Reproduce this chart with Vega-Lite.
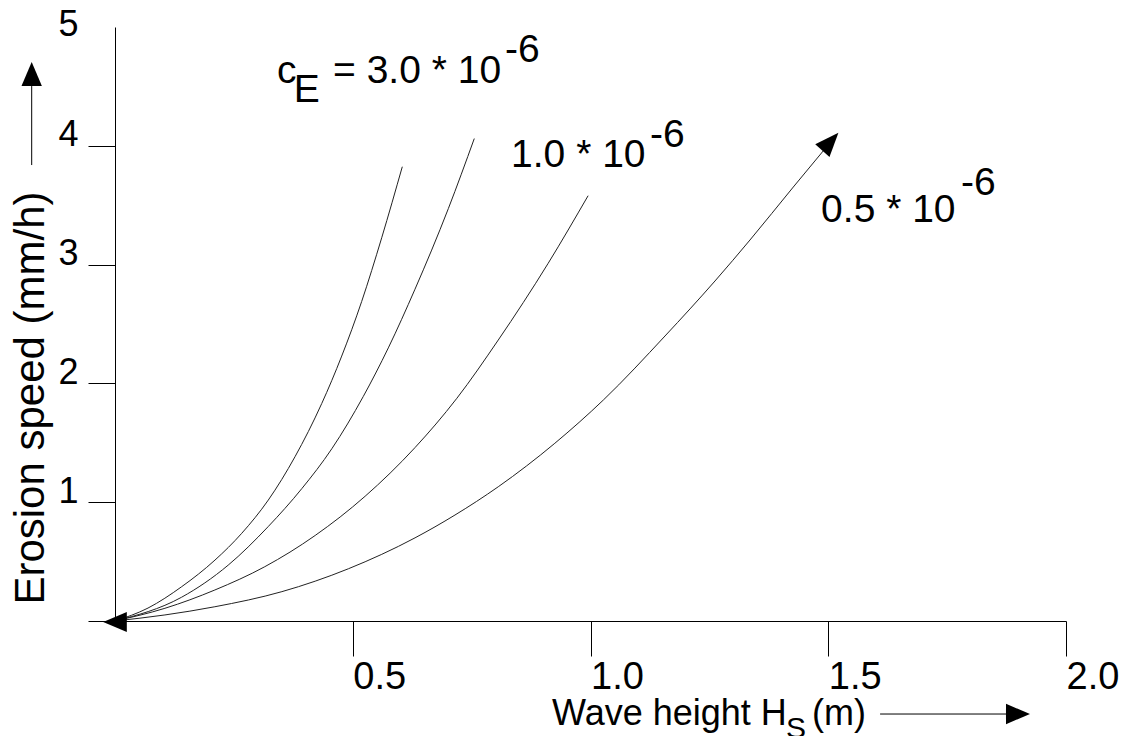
{
  "$schema": "https://vega.github.io/schema/vega-lite/v6.json",
  "width": 951,
  "height": 594,
  "autosize": "none",
  "padding": {"left": 115, "top": 27, "right": 74, "bottom": 115},
  "background": "white",
  "config": {"view": {"stroke": null}, "font": "Liberation Sans", "axis": {"grid": false}},
  "datasets": {
    "curves": [
      {"c": "3.0", "H": 0, "E": 0},
      {"c": "3.0", "H": 0.0694, "E": 0.109},
      {"c": "3.0", "H": 0.1403, "E": 0.289},
      {"c": "3.0", "H": 0.2103, "E": 0.513},
      {"c": "3.0", "H": 0.2665, "E": 0.738},
      {"c": "3.0", "H": 0.3224, "E": 1.018},
      {"c": "3.0", "H": 0.3786, "E": 1.383},
      {"c": "3.0", "H": 0.4347, "E": 1.830},
      {"c": "3.0", "H": 0.4768, "E": 2.230},
      {"c": "3.0", "H": 0.5188, "E": 2.690},
      {"c": "3.0", "H": 0.5609, "E": 3.226},
      {"c": "3.0", "H": 0.6042, "E": 3.824},
      {"c": "2.0", "H": 0, "E": 0},
      {"c": "2.0", "H": 0.140, "E": 0.200},
      {"c": "2.0", "H": 0.238, "E": 0.470},
      {"c": "2.0", "H": 0.322, "E": 0.794},
      {"c": "2.0", "H": 0.393, "E": 1.115},
      {"c": "2.0", "H": 0.456, "E": 1.450},
      {"c": "2.0", "H": 0.522, "E": 1.889},
      {"c": "2.0", "H": 0.5748, "E": 2.299},
      {"c": "2.0", "H": 0.6309, "E": 2.793},
      {"c": "2.0", "H": 0.701, "E": 3.471},
      {"c": "2.0", "H": 0.7556, "E": 4.061},
      {"c": "1.0", "H": 0, "E": 0},
      {"c": "1.0", "H": 0.105, "E": 0.107},
      {"c": "1.0", "H": 0.210, "E": 0.261},
      {"c": "1.0", "H": 0.315, "E": 0.457},
      {"c": "1.0", "H": 0.421, "E": 0.720},
      {"c": "1.0", "H": 0.526, "E": 1.050},
      {"c": "1.0", "H": 0.631, "E": 1.460},
      {"c": "1.0", "H": 0.719, "E": 1.875},
      {"c": "1.0", "H": 0.806, "E": 2.365},
      {"c": "1.0", "H": 0.911, "E": 3.011},
      {"c": "1.0", "H": 0.995, "E": 3.580},
      {"c": "0.5", "H": 0, "E": 0},
      {"c": "0.5", "H": 0.105, "E": 0.051},
      {"c": "0.5", "H": 0.210, "E": 0.120},
      {"c": "0.5", "H": 0.351, "E": 0.247},
      {"c": "0.5", "H": 0.491, "E": 0.440},
      {"c": "0.5", "H": 0.631, "E": 0.700},
      {"c": "0.5", "H": 0.715, "E": 0.892},
      {"c": "0.5", "H": 0.806, "E": 1.130},
      {"c": "0.5", "H": 0.925, "E": 1.496},
      {"c": "0.5", "H": 1.027, "E": 1.860},
      {"c": "0.5", "H": 1.1567, "E": 2.399},
      {"c": "0.5", "H": 1.2618, "E": 2.862},
      {"c": "0.5", "H": 1.3354, "E": 3.207},
      {"c": "0.5", "H": 1.4265, "E": 3.653},
      {"c": "0.5", "H": 1.4911, "E": 3.965}
    ],
    "notes": [
      {"H": 0.3407, "E": 4.529, "text": "c"},
      {"H": 0.376, "E": 4.369, "text": "E"},
      {"H": 0.4585, "E": 4.529, "text": "= 3.0 * 10"},
      {"H": 0.820, "E": 4.705, "text": "-6"},
      {"H": 0.833, "E": 3.822, "text": "1.0 * 10"},
      {"H": 1.125, "E": 3.99, "text": "-6"},
      {"H": 1.485, "E": 3.359, "text": "0.5 * 10"},
      {"H": 1.779, "E": 3.586, "text": "-6"}
    ],
    "xtitle": [
      {"H": 0.919, "E": -0.875, "text": "Wave height H"},
      {"H": 1.4658, "E": -0.875, "text": "(m)"}
    ],
    "xsub": [
      {"H": 1.4113, "E": -0.985, "text": "S"}
    ],
    "shafts": [
      {"H": -0.1752, "E": 3.838, "H2": -0.1752, "E2": 4.503},
      {"H": 1.609, "E": -0.783, "H2": 1.874, "E2": -0.783}
    ],
    "heads": [
      {"arrow": "curve", "H": 1.5045, "E": 4.035},
      {"arrow": "origin", "H": 0, "E": -0.008},
      {"arrow": "yaxis", "H": -0.1752, "E": 4.604},
      {"arrow": "xaxis", "H": 1.899, "E": -0.783}
    ]
  },
  "layer": [
    {
      "data": {"name": "curves"},
      "mark": {"type": "line", "stroke": "#222222", "strokeWidth": 1, "interpolate": "monotone"},
      "encoding": {
        "x": {
          "field": "H", "type": "quantitative",
          "scale": {"domain": [0, 2], "nice": false, "zero": false},
          "axis": {
            "values": [0.5, 1, 1.5, 2], "format": ".1f", "title": null,
            "domainColor": "black", "domainWidth": 1,
            "tickColor": "black", "tickWidth": 1, "tickSize": 35,
            "labelFontSize": 38, "labelColor": "black", "labelAlign": "left",
            "labelBaseline": "alphabetic", "labelPadding": 32,
            "labelFlush": false, "labelOverlap": false, "grid": false
          }
        },
        "y": {
          "field": "E", "type": "quantitative",
          "scale": {"domain": [0, 5], "nice": false},
          "axis": {
            "values": [0, 1, 2, 3, 4, 5], "format": "d",
            "title": "Erosion speed (mm/h)",
            "titleFontSize": 42, "titleFontWeight": "normal", "titleColor": "black",
            "titleX": -72, "titleY": 370.5, "titleAngle": 270,
            "titleAlign": "center", "titleBaseline": "alphabetic",
            "domainColor": "black", "domainWidth": 1,
            "tickColor": "black", "tickWidth": 1, "tickSize": 27,
            "tickOpacity": {"condition": {"test": "datum.value == 5", "value": 0}, "value": 1},
            "labelExpr": "datum.value == 0 ? '' : datum.label",
            "labelFontSize": 36, "labelColor": "black", "labelAlign": "right",
            "labelBaseline": "alphabetic", "labelPadding": 10,
            "labelOffset": {"condition": {"test": "datum.value == 5", "value": 8}, "value": 0},
            "labelFlush": false, "labelOverlap": false, "grid": false
          }
        },
        "detail": {"field": "c", "type": "nominal"}
      }
    },
    {
      "data": {"name": "shafts"},
      "mark": {"type": "rule", "stroke": "black", "strokeWidth": 1},
      "encoding": {
        "x": {"field": "H", "type": "quantitative"},
        "y": {"field": "E", "type": "quantitative"},
        "x2": {"field": "H2"},
        "y2": {"field": "E2"}
      }
    },
    {
      "data": {"name": "heads"},
      "transform": [{"filter": "datum.arrow == 'curve'"}],
      "mark": {"type": "point", "shape": "M0,-1L0.8,1L-0.8,1Z", "filled": true, "color": "black", "opacity": 1, "size": 576, "angle": 42, "strokeWidth": 0},
      "encoding": {"x": {"field": "H", "type": "quantitative"}, "y": {"field": "E", "type": "quantitative"}}
    },
    {
      "data": {"name": "heads"},
      "transform": [{"filter": "datum.arrow == 'origin'"}],
      "mark": {"type": "point", "shape": "M0,-1L0.85,1L-0.85,1Z", "filled": true, "color": "black", "opacity": 1, "size": 560, "angle": 270, "strokeWidth": 0},
      "encoding": {"x": {"field": "H", "type": "quantitative"}, "y": {"field": "E", "type": "quantitative"}}
    },
    {
      "data": {"name": "heads"},
      "transform": [{"filter": "datum.arrow == 'yaxis'"}],
      "mark": {"type": "point", "shape": "M0,-1L0.85,1L-0.85,1Z", "filled": true, "color": "black", "opacity": 1, "size": 576, "angle": 0, "strokeWidth": 0},
      "encoding": {"x": {"field": "H", "type": "quantitative"}, "y": {"field": "E", "type": "quantitative"}}
    },
    {
      "data": {"name": "heads"},
      "transform": [{"filter": "datum.arrow == 'xaxis'"}],
      "mark": {"type": "point", "shape": "M0,-1L0.85,1L-0.85,1Z", "filled": true, "color": "black", "opacity": 1, "size": 576, "angle": 90, "strokeWidth": 0},
      "encoding": {"x": {"field": "H", "type": "quantitative"}, "y": {"field": "E", "type": "quantitative"}}
    },
    {
      "data": {"name": "notes"},
      "mark": {"type": "text", "align": "left", "baseline": "alphabetic", "fontSize": 39, "color": "black", "font": "Liberation Sans"},
      "encoding": {"x": {"field": "H", "type": "quantitative"}, "y": {"field": "E", "type": "quantitative"}, "text": {"field": "text"}}
    },
    {
      "data": {"name": "xtitle"},
      "mark": {"type": "text", "align": "left", "baseline": "alphabetic", "fontSize": 36, "color": "black", "font": "Liberation Sans"},
      "encoding": {"x": {"field": "H", "type": "quantitative"}, "y": {"field": "E", "type": "quantitative"}, "text": {"field": "text"}}
    },
    {
      "data": {"name": "xsub"},
      "mark": {"type": "text", "align": "left", "baseline": "alphabetic", "fontSize": 30, "color": "black", "font": "Liberation Sans"},
      "encoding": {"x": {"field": "H", "type": "quantitative"}, "y": {"field": "E", "type": "quantitative"}, "text": {"field": "text"}}
    }
  ]
}
